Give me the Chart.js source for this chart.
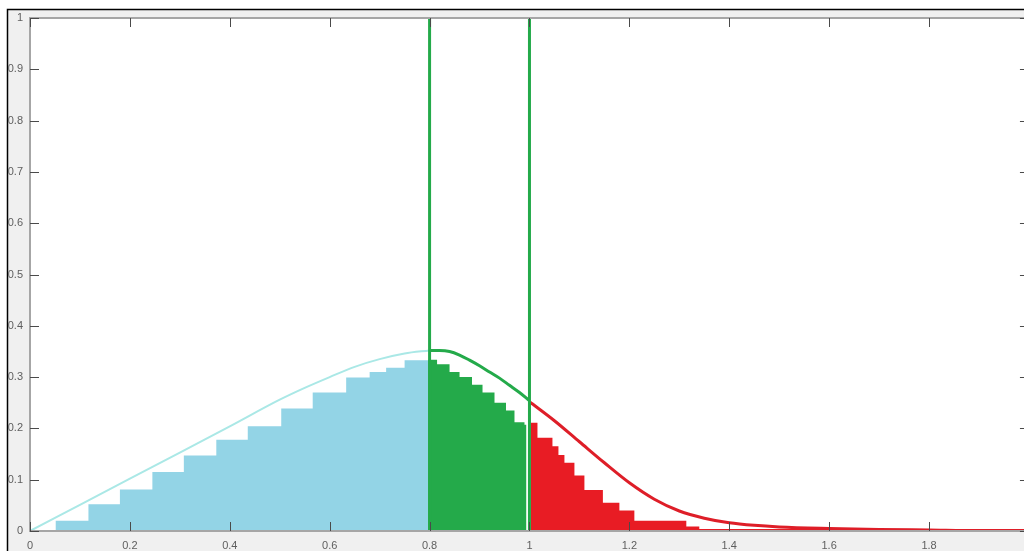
<!DOCTYPE html>
<html>
<head>
<meta charset="utf-8">
<script src="https://cdn.jsdelivr.net/npm/chart.js@4/dist/chart.umd.min.js"></script>
<style>
  html, body { margin: 0; padding: 0; overflow: hidden; background: #ffffff; }
  #wrap { position: absolute; left: 0; top: 0; width: 1040px; height: 551px; }
</style>
</head>
<body>
<div id="wrap"><canvas id="c"></canvas></div>
<script>
// ---- data ----
const xTickValues = [0, 0.2, 0.4, 0.6, 0.8, 1.0, 1.2, 1.4, 1.6, 1.8, 2.0];
const yTickValues = [0, 0.1, 0.2, 0.3, 0.4, 0.5, 0.6, 0.7, 0.8, 0.9, 1.0];

// histogram (step) regions: bin edges and heights
const blueEdges   = [0.051, 0.117, 0.180, 0.245, 0.308, 0.373, 0.436, 0.503, 0.566, 0.633, 0.680, 0.713, 0.750, 0.797];
const blueHeights = [0.020, 0.052, 0.081, 0.115, 0.147, 0.178, 0.204, 0.239, 0.270, 0.299, 0.310, 0.318, 0.333];

const greenEdges   = [0.797, 0.815, 0.840, 0.860, 0.885, 0.906, 0.930, 0.953, 0.970, 0.990, 0.994];
const greenHeights = [0.334, 0.325, 0.310, 0.300, 0.285, 0.270, 0.250, 0.235, 0.212, 0.207];

const redEdges   = [1.003, 1.016, 1.046, 1.058, 1.070, 1.090, 1.110, 1.147, 1.180, 1.210, 1.314, 1.340, 1.680];
const redHeights = [0.211, 0.182, 0.165, 0.148, 0.133, 0.108, 0.080, 0.055, 0.040, 0.020, 0.009, 0.004];

// fitted curves
const cyanCurveX = [0, 0.1, 0.2, 0.3, 0.4, 0.5, 0.55, 0.6, 0.65, 0.7, 0.75, 0.8];
const cyanCurveY = [0, 0.051, 0.102, 0.153, 0.204, 0.256, 0.279, 0.300, 0.320, 0.335, 0.346, 0.352];

const greenCurveX = [0.8, 0.82, 0.84, 0.86, 0.88, 0.9, 0.92, 0.94, 0.96, 0.98, 1.0];
const greenCurveY = [0.352, 0.352, 0.350, 0.343, 0.333, 0.322, 0.310, 0.298, 0.284, 0.270, 0.254];

const redCurveX = [1.0, 1.05, 1.1, 1.15, 1.2, 1.25, 1.3, 1.35, 1.4, 1.45, 1.5, 1.6, 1.7, 1.8, 1.9, 2.0];
const redCurveY = [0.252, 0.215, 0.174, 0.133, 0.094, 0.062, 0.039, 0.025, 0.016, 0.011, 0.008, 0.005, 0.003, 0.002, 0.001, 0.001];

// vertical split lines
const splitLines = [0.8, 1.0];

// ---- builders ----
function stepPoints(edges, heights) {
  return edges.map((e, i) => ({ x: e, y: heights[Math.min(i, heights.length - 1)] }));
}
function curvePoints(xs, ys) { return xs.map((x, i) => ({ x, y: ys[i] })); }

const BLUE = 'rgb(147,212,230)';
const GREEN = 'rgb(36,170,74)';
const RED = 'rgb(232,28,36)';
const CYAN = 'rgb(170,232,230)';

const datasets = [];
splitLines.forEach(v => datasets.push({
  data: [{ x: v, y: 0 }, { x: v, y: 1 }],
  borderColor: GREEN, borderWidth: 3, pointRadius: 0, order: 0, fill: false
}));
datasets.push({ data: curvePoints(cyanCurveX, cyanCurveY), borderColor: CYAN, borderWidth: 2, pointRadius: 0, cubicInterpolationMode: 'monotone', order: 1, fill: false });
datasets.push({ data: curvePoints(greenCurveX, greenCurveY), borderColor: GREEN, borderWidth: 3, pointRadius: 0, cubicInterpolationMode: 'monotone', order: 1, fill: false });
datasets.push({ data: curvePoints(redCurveX, redCurveY), borderColor: 'rgb(222,30,40)', borderWidth: 3, pointRadius: 0, cubicInterpolationMode: 'monotone', order: 1, fill: false, clip: false });
[[blueEdges, blueHeights, BLUE], [greenEdges, greenHeights, GREEN], [redEdges, redHeights, RED]].forEach(([e, h, c]) => datasets.push({
  data: stepPoints(e, h), stepped: 'before', borderWidth: 0, borderColor: c, backgroundColor: c,
  fill: 'origin', pointRadius: 0, order: 2
}));

const fmt = v => String(Number(Number(v).toFixed(1)));

const framePlugin = {
  id: 'frame',
  beforeDraw(chart) {
    const { ctx, chartArea: a, width, height } = chart;
    ctx.save();
    ctx.fillStyle = '#ffffff';
    ctx.fillRect(0, 0, width, height);
    ctx.fillStyle = '#f0f0f0';
    ctx.fillRect(8, 10, width, height);
    ctx.strokeStyle = '#000000';
    ctx.lineWidth = 1.5;
    ctx.beginPath();
    ctx.moveTo(7.5, height); ctx.lineTo(7.5, 9.5); ctx.lineTo(width, 9.5);
    ctx.stroke();
    ctx.fillStyle = '#ffffff';
    ctx.fillRect(a.left, a.top, a.right - a.left, a.bottom - a.top);
    ctx.restore();
  },
  afterDraw(chart) {
    const { ctx, chartArea: a, scales } = chart;
    ctx.save();
    ctx.strokeStyle = '#a6a6a6';
    ctx.lineWidth = 2;
    ctx.strokeRect(a.left, a.top, a.right - a.left, a.bottom - a.top);
    ctx.strokeStyle = '#4a4a4a';
    ctx.lineWidth = 1;
    const L = 9;
    ctx.beginPath();
    xTickValues.forEach(v => {
      const px = Math.round(scales.x.getPixelForValue(v)) + 0.5;
      ctx.moveTo(px, a.bottom); ctx.lineTo(px, a.bottom - L);
      ctx.moveTo(px, a.top); ctx.lineTo(px, a.top + L);
    });
    yTickValues.forEach(v => {
      const py = Math.round(scales.y.getPixelForValue(v)) + 0.5;
      ctx.moveTo(a.left, py); ctx.lineTo(a.left + L, py);
      ctx.moveTo(a.right, py); ctx.lineTo(a.right - L, py);
    });
    ctx.stroke();
    ctx.restore();
  }
};

new Chart(document.getElementById('c'), {
  type: 'line',
  data: { datasets },
  plugins: [framePlugin],
  options: {
    responsive: true,
    maintainAspectRatio: false,
    animation: false,
    events: [],
    layout: { padding: { left: 0, right: 10, top: 18, bottom: 0 } },
    plugins: { legend: { display: false }, tooltip: { enabled: false } },
    scales: {
      x: {
        type: 'linear', min: 0, max: 2,
        afterBuildTicks: s => { s.ticks = xTickValues.map(v => ({ value: v })); },
        afterFit: s => { s.height = 20; },
        grid: { display: false, drawTicks: false },
        border: { display: false },
        ticks: { callback: fmt, color: '#5e5e5e', font: { family: 'Liberation Sans, Arial, sans-serif', size: 11 }, padding: 8, maxRotation: 0, autoSkip: false }
      },
      y: {
        type: 'linear', min: 0, max: 1,
        afterBuildTicks: s => { s.ticks = yTickValues.map(v => ({ value: v })); },
        afterFit: s => { s.width = 30; },
        grid: { display: false, drawTicks: false },
        border: { display: false },
        ticks: { callback: fmt, color: '#5e5e5e', font: { family: 'Liberation Sans, Arial, sans-serif', size: 11 }, padding: 7, autoSkip: false }
      }
    }
  }
});
</script>
</body>
</html>
